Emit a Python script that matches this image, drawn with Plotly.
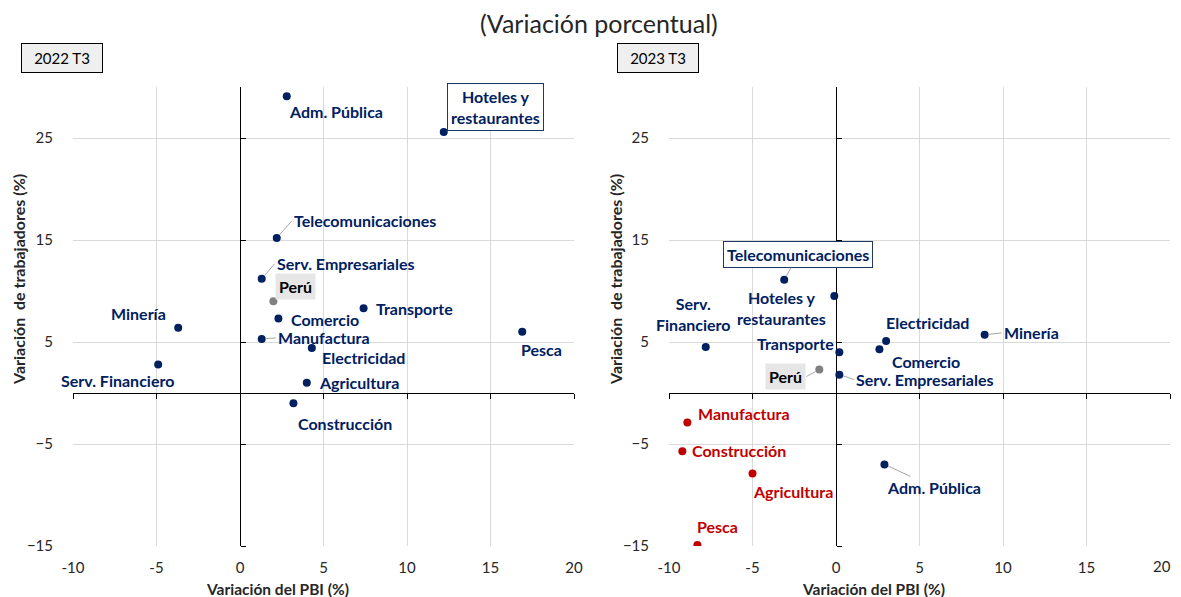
import plotly.graph_objects as go

W, H = 1181, 597

# ---------------- data ----------------
sectores_2022 = ["Adm. Pública", "Hoteles y restaurantes", "Telecomunicaciones", "Serv. Empresariales",
                 "Perú", "Transporte", "Comercio", "Minería", "Manufactura", "Pesca", "Electricidad",
                 "Serv. Financiero", "Agricultura", "Construcción"]
pbi_2022 = [2.8, 12.2, 2.2, 1.3, 2.0, 7.4, 2.3, -3.7, 1.3, 16.9, 4.3, -4.9, 4.0, 3.2]
trab_2022 = [29.1, 25.6, 15.2, 11.2, 9.0, 8.3, 7.3, 6.4, 5.3, 6.0, 4.4, 2.8, 1.0, -1.0]

sectores_2023 = ["Telecomunicaciones", "Hoteles y restaurantes", "Serv. Financiero", "Transporte",
                 "Electricidad", "Comercio", "Minería", "Perú", "Serv. Empresariales", "Manufactura",
                 "Construcción", "Agricultura", "Adm. Pública", "Pesca"]
pbi_2023 = [-3.1, -0.1, -7.8, 0.2, 3.0, 2.6, 8.9, -1.0, 0.2, -8.9, -9.2, -5.0, 2.9, -8.3]
trab_2023 = [11.1, 9.5, 4.5, 4.0, 5.1, 4.3, 5.7, 2.3, 1.8, -2.9, -5.7, -7.9, -7.0, -14.9]

x_ticks = [-10, -5, 0, 5, 10, 15, 20]
x_tick_labels = ["-10", "-5", "0", "5", "10", "15", "20"]
y_ticks = [-15, -5, 5, 15, 25]
x_range = [-10, 20]
y_range = [-15, 30]
paneles = ["2022 T3", "2023 T3"]
titulo = "(Variación porcentual)"
x_titulo = "Variación del PBI (%)"
y_titulo = "Variación  de trabajadores (%)"

# ---------------- styles / label placement (pixels) ----------------
NAVY = "#002060"
RED = "#C00000"
GRAY = "#808080"
FONT = "Lato"
LSIZE = 16
TICKFONT = dict(family=FONT, size=15, color="#262626")

# name: (display text, xanchor, dx, dy, leader, style)
lab_2022 = {
    "Adm. Pública": ("Adm. Pública", "left", 0, 15, False, "plain"),
    "Hoteles y restaurantes": ("Hoteles y<br>restaurantes", "left", 3, -25, False, "box"),
    "Telecomunicaciones": ("Telecomunicaciones", "left", 15, -17, True, "plain"),
    "Serv. Empresariales": ("Serv. Empresariales", "left", 13, -15, True, "plain"),
    "Perú": ("Perú", "left", 2, -15, False, "peru"),
    "Transporte": ("Transporte", "left", 10, 0, False, "plain"),
    "Comercio": ("Comercio", "left", 11, 1, False, "plain"),
    "Minería": ("Minería", "right", -10, -14, False, "plain"),
    "Manufactura": ("Manufactura", "left", 14, -1, True, "plain"),
    "Pesca": ("Pesca", "left", -3, 18, False, "plain"),
    "Electricidad": ("Electricidad", "left", 8, 9, False, "plain"),
    "Serv. Financiero": ("Serv. Financiero", "right", 18, 16, False, "plain"),
    "Agricultura": ("Agricultura", "left", 10, 0, False, "plain"),
    "Construcción": ("Construcción", "left", 3, 20, False, "plain"),
}
lab_2023 = {
    "Telecomunicaciones": ("Telecomunicaciones", "center", 14, -25, True, "box"),
    "Hoteles y restaurantes": ("Hoteles y<br>restaurantes", "center", -53, 12, False, "plain"),
    "Serv. Financiero": ("Serv.<br>Financiero", "center", -12, -33, False, "plain"),
    "Transporte": ("Transporte", "right", -3, -9, False, "plain"),
    "Electricidad": ("Electricidad", "left", -2, -18, False, "plain"),
    "Comercio": ("Comercio", "left", 11, 12, False, "plain"),
    "Minería": ("Minería", "left", 17, -2, True, "plain"),
    "Perú": ("Perú", "right", -13, 7, True, "peru"),
    "Serv. Empresariales": ("Serv. Empresariales", "left", 15, 5, True, "plain"),
    "Manufactura": ("Manufactura", "left", 9, -9, False, "plain"),
    "Construcción": ("Construcción", "left", 8, -1, False, "plain"),
    "Agricultura": ("Agricultura", "left", -2, 18, False, "plain"),
    "Adm. Pública": ("Adm. Pública", "center", 50, 23, True, "plain"),
    "Pesca": ("Pesca", "left", -2, -18, False, "plain"),
}

# The page draws the figure 8 px in from the top-left corner; targets are screen pixels.
OFF = 8
SL, SR, ST, SB = 73, 1170, 87, 546          # plot area on screen
ML, MT = SL - OFF, ST - OFF
MR = W - (SR - OFF)
MB = H - (SB - OFF)
PW, PH = W - ML - MR, H - MT - MB


def px(X):
    return (X - OFF - ML) / PW


def py(Y):
    return (H - MB - (Y - OFF)) / PH


XD = [[0, px(574)], [px(669), 1]]
YD = [0, 1]


def colour(name, x, y):
    if name == "Perú":
        return GRAY
    if x < 0 and y < 0:
        return RED
    return NAVY


fig = go.Figure()
annotations = []

panels = [(sectores_2022, pbi_2022, trab_2022, lab_2022),
          (sectores_2023, pbi_2023, trab_2023, lab_2023)]

for i, (names, xs, ys, labs) in enumerate(panels):
    main_x = "x" if i == 0 else "x2"
    main_y = "y" if i == 0 else "y2"
    ov_x = "x3" if i == 0 else "x4"
    ov_y = "y3" if i == 0 else "y4"
    fig.add_trace(go.Scatter(x=[], y=[], xaxis=main_x, yaxis=main_y, showlegend=False, hoverinfo="skip"))
    cols = [colour(n, a, b) for n, a, b in zip(names, xs, ys)]
    fig.add_trace(go.Scatter(
        x=xs, y=ys, mode="markers", text=names, xaxis=ov_x, yaxis=ov_y,
        marker=dict(size=8, color=cols, line=dict(width=0)),
        showlegend=False, hovertemplate="%{text}: (%{x}, %{y})<extra></extra>"))
    for n, a, b, c in zip(names, xs, ys, cols):
        text, anchor, dx, dy, leader, style = labs[n]
        fcol = "#000000" if style == "peru" else c
        ann = dict(x=a, y=b, xref=main_x, yref=main_y, text=text, xanchor=anchor, yanchor="middle",
                   align="center",
                   font=dict(family=FONT, size=LSIZE, color=fcol, weight="bold"))
        if style == "box":
            ann.update(bordercolor="#1f3864", borderwidth=1, bgcolor="white", borderpad=3)
        elif style == "peru":
            ann.update(bgcolor="#e7e6e6", borderpad=3)
        if leader:
            ann.update(showarrow=True, arrowhead=0, arrowwidth=1, arrowcolor="#a6a6a6",
                       ax=dx, ay=dy, axref="pixel", ayref="pixel", standoff=4)
        else:
            ann.update(showarrow=False, xshift=dx, yshift=-dy)
        annotations.append(ann)


def main_xaxis(dom, anchor, ticktext):
    return dict(domain=dom, anchor=anchor, range=x_range, tickvals=x_ticks, ticktext=ticktext,
                showgrid=True, gridcolor="#d9d9d9", gridwidth=1, zeroline=False, showline=False,
                ticks="outside", ticklen=8, tickcolor="rgba(0,0,0,0)", automargin=False,
                tickfont=TICKFONT, fixedrange=True)


def main_yaxis(anchor):
    return dict(domain=YD, anchor=anchor, range=y_range, tickvals=y_ticks, showgrid=True,
                gridcolor="#d9d9d9", gridwidth=1, zeroline=False, showline=False,
                ticks="outside", ticklen=16, tickcolor="rgba(0,0,0,0)", automargin=False,
                tickfont=TICKFONT, fixedrange=True)


y0_pos = YD[0] + (0 - y_range[0]) / (y_range[1] - y_range[0]) * (YD[1] - YD[0])


def ov_xaxis(dom, over):
    return dict(domain=dom, overlaying=over, anchor="free", position=y0_pos, range=x_range,
                tickvals=x_ticks, showgrid=False, zeroline=False, showline=True, linecolor="black",
                linewidth=1, ticks="outside", ticklen=5, tickcolor="black", showticklabels=False,
                layer="below traces", fixedrange=True, automargin=False)


def ov_yaxis(dom, over):
    pos = dom[0] + (0 - x_range[0]) / (x_range[1] - x_range[0]) * (dom[1] - dom[0])
    return dict(domain=YD, overlaying=over, anchor="free", position=pos, side="right", range=y_range,
                tickvals=y_ticks, showgrid=False, zeroline=False, showline=True, linecolor="black",
                linewidth=1, ticks="outside", ticklen=5, tickcolor="black", showticklabels=False,
                layer="below traces", fixedrange=True, automargin=False)


# right panel: last x tick label placed inside the visible page edge
right_ticktext = x_tick_labels[:-1] + [""]
annotations.append(dict(x=x_ticks[-1], y=py(566), xref="x2", yref="paper", text=x_tick_labels[-1],
                        showarrow=False, xanchor="right", yanchor="middle", xshift=3, font=TICKFONT))

annotations.append(dict(x=px(599), y=py(23), xref="paper", yref="paper", text=titulo, showarrow=False,
                        xanchor="center", yanchor="middle",
                        font=dict(family=FONT, size=25, color="#262626")))
for cx, lab in zip([62, 658], paneles):
    annotations.append(dict(x=px(cx), y=py(58), xref="paper", yref="paper", text=lab, showarrow=False,
                            xanchor="center", yanchor="middle", width=80, height=28,
                            bgcolor="#efefef", bordercolor="#000000", borderwidth=1, borderpad=0,
                            font=dict(family=FONT, size=15, color="#000000")))
for cx in [277, 873]:
    annotations.append(dict(x=px(cx), y=py(589), xref="paper", yref="paper", text=x_titulo,
                            showarrow=False, xanchor="center", yanchor="middle",
                            font=dict(family=FONT, size=15.5, color="#262626", weight="bold")))
for cx in [18, 615]:
    annotations.append(dict(x=px(cx), y=py(280), xref="paper", yref="paper", text=y_titulo,
                            showarrow=False, xanchor="center", yanchor="middle", textangle=-90,
                            font=dict(family=FONT, size=16, color="#262626", weight="bold")))

fig.update_layout(
    width=W, height=H, autosize=False,
    margin=dict(l=ML, r=MR, t=MT, b=MB, pad=0, autoexpand=False),
    paper_bgcolor="white", plot_bgcolor="white",
    xaxis=main_xaxis(XD[0], "y", x_tick_labels), yaxis=main_yaxis("x"),
    xaxis2=main_xaxis(XD[1], "y2", right_ticktext), yaxis2=main_yaxis("x2"),
    xaxis3=ov_xaxis(XD[0], "x"), yaxis3=ov_yaxis(XD[0], "y"),
    xaxis4=ov_xaxis(XD[1], "x2"), yaxis4=ov_yaxis(XD[1], "y2"),
    annotations=annotations, showlegend=False,
    font=dict(family=FONT),
)

fig.write_html("out.html")
